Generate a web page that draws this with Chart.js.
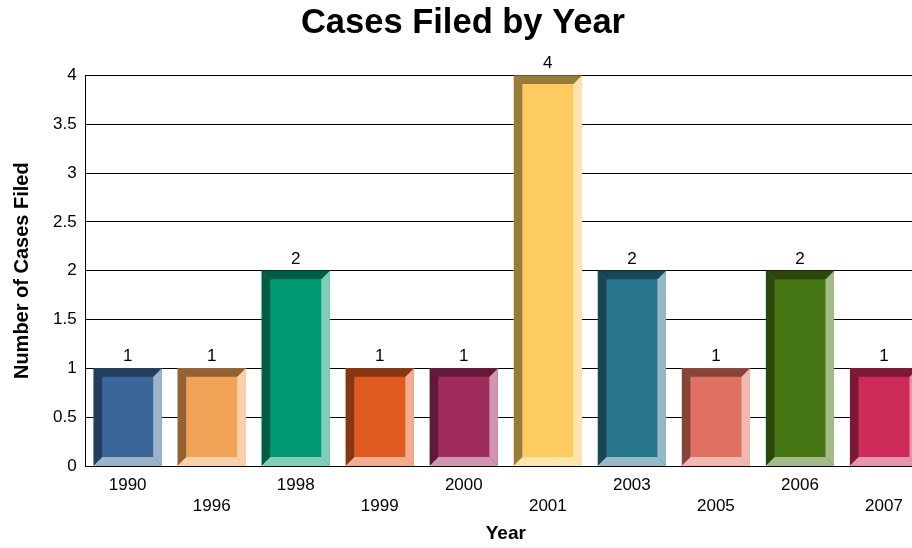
<!DOCTYPE html>
<html>
<head>
    <title>Cases Filed by Year</title>
    <script src="https://cdn.jsdelivr.net/npm/chart.js"></script>
    <style>
        body { margin: 0; overflow: hidden; background: #fff; }
        #wrap { width: 940px; height: 548px; }
    </style>
</head>
<body>
    <div id="wrap"><canvas id="casesChart" width="940" height="548"></canvas></div>

    <script>
    const years = ['1990', '1996', '1998', '1999', '2000', '2001', '2003', '2005', '2006', '2007'];
    const casesFiled = [1, 1, 2, 1, 1, 4, 2, 1, 2, 1];
    const barColors = ['#3B6699', '#F0A356', '#009A72', '#E05A20', '#A02C5E',
                       '#FDCB60', '#28758C', '#E07060', '#477614', '#CC2A58'];

    // staggered tick labels: every second year drops to a second row
    const tickLabels = years.map((y, i) => i % 2 === 0 ? [y] : ['', y]);

    function mix(hex, target, amt) {
        let n = parseInt(hex.slice(1), 16);
        let r = n >> 16, g = (n >> 8) & 255, b = n & 255;
        r = Math.round(r + (target - r) * amt);
        g = Math.round(g + (target - g) * amt);
        b = Math.round(b + (target - b) * amt);
        return 'rgb(' + r + ',' + g + ',' + b + ')';
    }

    // beveled look: dark top/left, light right/bottom
    const bevelPlugin = {
        id: 'bevel',
        afterDatasetsDraw(chart) {
            const ctx = chart.ctx;
            const meta = chart.getDatasetMeta(0);
            const bv = 8.5;
            meta.data.forEach((bar, i) => {
                const p = bar.getProps(['x', 'y', 'base', 'width'], true);
                const L = p.x - p.width / 2, R = p.x + p.width / 2;
                const T = p.y, B = p.base;
                const dark = mix(barColors[i], 0, 0.4);
                const light = mix(barColors[i], 255, 0.5);
                const poly = (pts, col) => {
                    ctx.beginPath();
                    ctx.moveTo(pts[0][0], pts[0][1]);
                    for (let k = 1; k < pts.length; k++) ctx.lineTo(pts[k][0], pts[k][1]);
                    ctx.closePath();
                    ctx.fillStyle = col;
                    ctx.fill();
                };
                ctx.save();
                poly([[R, T], [R, B], [R - bv, B - bv], [R - bv, T + bv]], light);
                poly([[L, B], [R, B], [R - bv, B - bv], [L + bv, B - bv]], light);
                poly([[L, T], [R, T], [R - bv, T + bv], [L + bv, T + bv]], dark);
                poly([[L, T], [L + bv, T + bv], [L + bv, B - bv], [L, B]], dark);
                ctx.restore();
            });
        }
    };

    const valueLabelPlugin = {
        id: 'valueLabels',
        afterDatasetsDraw(chart) {
            const ctx = chart.ctx;
            const meta = chart.getDatasetMeta(0);
            ctx.save();
            ctx.font = '17px "Liberation Sans", Arial, sans-serif';
            ctx.fillStyle = '#000';
            ctx.textAlign = 'center';
            ctx.textBaseline = 'alphabetic';
            meta.data.forEach((bar, i) => {
                ctx.fillText(String(casesFiled[i]), bar.x, bar.y - 7);
            });
            ctx.restore();
        }
    };

    Chart.defaults.font.family = '"Liberation Sans", Arial, sans-serif';
    Chart.defaults.color = '#000';

    new Chart(document.getElementById('casesChart').getContext('2d'), {
        type: 'bar',
        data: {
            labels: tickLabels,
            datasets: [{
                label: 'Cases Filed',
                data: casesFiled,
                backgroundColor: barColors,
                borderWidth: 0,
                barPercentage: 0.81,
                categoryPercentage: 1.0
            }]
        },
        options: {
            responsive: false,
            animation: false,
            layout: {
                padding: { top: 0, right: 14, bottom: 0, left: 0 }
            },
            plugins: {
                legend: { display: false },
                tooltip: { enabled: false },
                title: {
                    display: true,
                    text: 'Cases Filed by Year',
                    color: '#000',
                    font: { size: 34.5, weight: 'bold' },
                    padding: { top: 3, bottom: 31 }
                }
            },
            scales: {
                x: {
                    offset: true,
                    grid: { display: false, drawTicks: false },
                    border: { display: true, color: '#000', width: 1 },
                    ticks: {
                        maxRotation: 0,
                        autoSkip: false,
                        padding: 9,
                        font: { size: 17, lineHeight: 1.235 }
                    },
                    title: {
                        display: true,
                        text: 'Year',
                        font: { size: 19, weight: 'bold' },
                        padding: { top: -3.4, bottom: 2.6 }
                    }
                },
                y: {
                    min: 0,
                    max: 4,
                    grid: { color: '#000', lineWidth: 1, drawTicks: false },
                    border: { display: true, color: '#000', width: 1 },
                    ticks: {
                        stepSize: 0.5,
                        padding: 9,
                        font: { size: 17 },
                        callback: v => String(v)
                    },
                    title: {
                        display: true,
                        text: 'Number of Cases Filed',
                        font: { size: 20, weight: 'bold' },
                        padding: { top: 10, bottom: 10 }
                    }
                }
            }
        },
        plugins: [bevelPlugin, valueLabelPlugin]
    });
    </script>
</body>
</html>
